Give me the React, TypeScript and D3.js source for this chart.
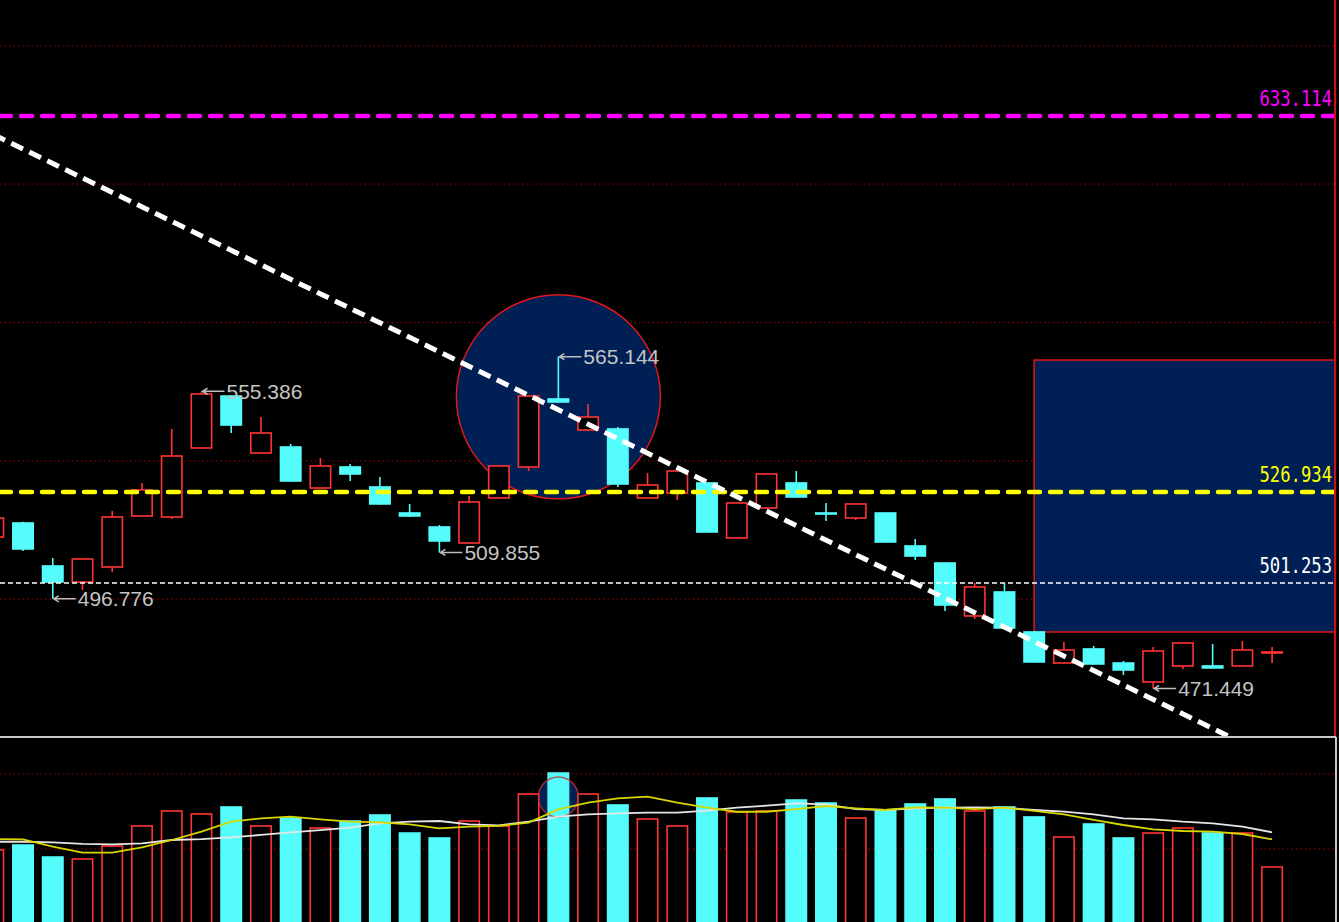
import React from "react";
import * as d3 from "d3";

// price candles, index 0 is the partly hidden one at the left edge
const opens = [
  514.23, 518.18, 506.04, 501.52, 505.75, 520.16, 519.87, 539.36, 554.04, 537.95,
  539.64, 528.06, 534.0, 528.35, 521.0, 517.05, 512.53, 525.24, 534.0, 553.2,
  544.44, 544.73, 525.24, 526.65, 529.48, 513.94, 522.42, 529.48, 521.0, 519.59,
  521.0, 511.69, 506.88, 491.92, 498.7, 487.4, 478.64, 482.6, 478.64, 473.28,
  477.8, 477.8, 477.8, 481.47,
];
const highs = [
  520.5, 518.5, 508.3, 508.1, 521.57, 529.48, 544.73, 555.386, 554.2, 548.11,
  540.49, 536.54, 534.84, 531.17, 523.55, 517.62, 525.8, 534.4, 554.2, 565.144,
  551.79, 545.29, 532.3, 532.86, 529.6, 523.9, 532.1, 532.86, 523.83, 523.6,
  521.1, 513.66, 507.0, 501.24, 501.24, 487.5, 484.57, 483.45, 479.21, 483.16,
  484.29, 484.01, 484.86, 483.16,
];
const lows = [
  513.5, 510.27, 496.776, 499.26, 504.34, 520.0, 519.31, 539.2, 543.6, 537.8,
  529.9, 527.9, 530.04, 523.4, 519.87, 509.855, 512.4, 525.1, 532.86, 552.2,
  544.3, 528.35, 525.1, 524.67, 515.5, 513.8, 522.3, 525.4, 518.74, 519.03,
  512.7, 507.73, 493.33, 491.07, 488.4, 478.8, 478.5, 478.2, 475.25, 471.449,
  476.95, 477.2, 477.7, 478.64,
];
const closes = [
  519.59, 510.84, 501.52, 508.01, 519.87, 527.5, 537.1, 554.61, 545.85, 543.6,
  530.04, 534.28, 532.02, 523.55, 520.16, 513.1, 524.11, 534.28, 554.04, 552.35,
  548.11, 529.19, 528.91, 532.86, 515.64, 523.83, 532.02, 525.52, 520.72, 523.55,
  512.81, 508.86, 495.02, 500.11, 488.53, 478.93, 482.32, 478.36, 476.67, 482.03,
  484.29, 477.24, 482.32, 481.75,
];

// volume panel
const volumes = [
  0.987, 1.053, 0.893, 0.867, 1.04, 1.307, 1.507, 1.467, 1.56, 1.307,
  1.413, 1.28, 1.373, 1.453, 1.213, 1.147, 1.373, 1.307, 1.733, 2.013,
  1.733, 1.587, 1.4, 1.307, 1.68, 1.493, 1.507, 1.653, 1.613, 1.413,
  1.52, 1.6, 1.667, 1.507, 1.56, 1.427, 1.16, 1.333, 1.147, 1.213,
  1.28, 1.213, 1.213, 0.76,
];
const volMaYellow = [
  1.133, 1.129, 1.031, 0.951, 0.951, 1.023, 1.12, 1.231, 1.364, 1.409,
  1.431, 1.396, 1.364, 1.356, 1.329, 1.276, 1.297, 1.307, 1.351, 1.529,
  1.617, 1.676, 1.697, 1.617, 1.551, 1.497, 1.497, 1.533, 1.573, 1.543,
  1.52, 1.556, 1.551, 1.533, 1.551, 1.507, 1.463, 1.387, 1.32, 1.263,
  1.24, 1.231, 1.2, 1.129,
];
const volMaWhite = [
  1.097, 1.097, 1.089, 1.067, 1.063, 1.076, 1.12, 1.133, 1.156, 1.187,
  1.223, 1.253, 1.284, 1.343, 1.364, 1.373, 1.329, 1.316, 1.364, 1.431,
  1.463, 1.476, 1.484, 1.484, 1.511, 1.551, 1.577, 1.609, 1.596, 1.533,
  1.52, 1.543, 1.551, 1.556, 1.551, 1.52, 1.497, 1.463, 1.409, 1.396,
  1.364, 1.343, 1.297, 1.223,
];

const priceGrid = [652.9, 613.9, 574.8, 535.7, 496.7];
const volumeGrid = [2, 1];

const levels = [
  { value: 633.114, color: "#ff00ff", kind: "thick" },
  { value: 526.934, color: "#ffff00", kind: "thick" },
  { value: 501.253, color: "#ffffff", kind: "thin" },
];

const extremes = [
  { i: 2, value: 496.776 },
  { i: 7, value: 555.386 },
  { i: 15, value: 509.855 },
  { i: 19, value: 565.144 },
  { i: 39, value: 471.449 },
];

const trendLine = [
  { i: 0, p: 627.9 },
  { i: 41.6, p: 457.7 },
];

const zoneBox = { from: 35, top: 564.2, bottom: 487.4 };
const focusCircle = { i: 19, p: 553.8, v: 1.693 };

const RED = "#ff3434";
const CYAN = "#54fcfc";
const NAVY = "#001f55";

const App = () => {
  const width = 1339;
  const height = 922;
  const mainBottom = 737;
  const rightEdge = 1335;
  const bodyW = 22;

  const x = d3.scaleLinear().domain([0, 43]).range([-6.7, 1272.1]);
  const y = d3.scaleLinear().domain([457.74, 665.88]).range([mainBottom, 0]);
  const yv = d3.scaleLinear().domain([0, 2]).range([924, 774]);

  const idx = d3.range(opens.length);
  const fmt = d3.format(".3f");

  const trendPath = d3
    .line<{ i: number; p: number }>()
    .x((d) => x(d.i))
    .y((d) => y(d.p))(trendLine) as string;

  const maLine = d3
    .line<number>()
    .x((_, i) => x(i))
    .y((d) => yv(d));

  return (
    <svg
      width={width}
      height={height}
      style={{ position: "absolute", left: 0, top: 0, background: "#000" }}
    >
      <defs>
        <clipPath id="mainClip">
          <rect x={0} y={0} width={rightEdge} height={mainBottom} />
        </clipPath>
        <clipPath id="volClip">
          <rect x={0} y={mainBottom + 1} width={rightEdge} height={height - mainBottom} />
        </clipPath>
      </defs>
      <rect x={0} y={0} width={width} height={height} fill="#000" />

      {/* price panel */}
      <g clipPath="url(#mainClip)">
        {priceGrid.map((g) => (
          <line
            key={g}
            x1={0}
            x2={rightEdge}
            y1={y(g)}
            y2={y(g)}
            stroke="#a00000"
            strokeWidth={1}
            strokeDasharray="1.5 3"
          />
        ))}

        <rect
          x={x(zoneBox.from)}
          y={y(zoneBox.top)}
          width={rightEdge - x(zoneBox.from)}
          height={y(zoneBox.bottom) - y(zoneBox.top)}
          fill={NAVY}
          stroke="#e01818"
          strokeWidth={1.5}
        />
        <circle
          cx={x(focusCircle.i)}
          cy={y(focusCircle.p)}
          r={102}
          fill={NAVY}
          stroke="#e01818"
          strokeWidth={1.5}
        />

        {idx.map((i) => {
          const o = opens[i];
          const c = closes[i];
          const up = c >= o;
          const cx = x(i);
          const top = y(Math.max(o, c));
          const bot = y(Math.min(o, c));
          const color = up ? RED : CYAN;
          const bh = Math.max(bot - top, 1);
          return (
            <g key={i}>
              {up ? (
                <>
                  <line x1={cx} x2={cx} y1={y(highs[i])} y2={top} stroke={color} strokeWidth={1.6} />
                  <line x1={cx} x2={cx} y1={bot} y2={y(lows[i])} stroke={color} strokeWidth={1.6} />
                </>
              ) : (
                <line x1={cx} x2={cx} y1={y(highs[i])} y2={y(lows[i])} stroke={color} strokeWidth={1.6} />
              )}
              <rect
                x={cx - bodyW / 2 + 0.8}
                y={top}
                width={bodyW - 1.6}
                height={bh}
                fill={up ? "#000" : CYAN}
                stroke={color}
                strokeWidth={1.6}
              />
            </g>
          );
        })}

        {levels.map((l) => (
          <line
            key={l.value}
            x1={0}
            x2={rightEdge}
            y1={y(l.value)}
            y2={y(l.value)}
            stroke={l.color}
            strokeWidth={l.kind === "thick" ? 4.5 : 1.5}
            strokeDasharray={l.kind === "thick" ? "11 10" : "5 3"}
            strokeLinecap={l.kind === "thick" ? "round" : "butt"}
          />
        ))}

        <path
          d={trendPath}
          fill="none"
          stroke="#fff"
          strokeWidth={5}
          strokeDasharray="13 7"
        />

        {extremes.map((e) => {
          const ex = x(e.i) + 1;
          const ey = y(e.value);
          return (
            <g key={e.value}>
              <path
                d={`M${ex},${ey}H${ex + 22}M${ex + 5},${ey - 3}L${ex},${ey}L${ex + 5},${ey + 3}`}
                fill="none"
                stroke="#bdbdbd"
                strokeWidth={1.5}
              />
              <text
                x={ex + 24}
                y={ey + 7.5}
                fill="#c4c4c4"
                fontFamily="'Liberation Sans', Arial, sans-serif"
                fontSize={21}
              >
                {fmt(e.value)}
              </text>
            </g>
          );
        })}
      </g>
      <line x1={rightEdge} x2={rightEdge} y1={0} y2={mainBottom} stroke="#d01010" strokeWidth={2} />

      {levels.map((l) => (
        <g key={"t" + l.value} transform={`translate(1332,${y(l.value) - 10}) scale(0.82,1)`}>
          <text
            x={0}
            y={0}
            textAnchor="end"
            fill={l.color}
            fontFamily="'DejaVu Sans Mono', monospace"
            fontSize={21}
          >
            {fmt(l.value)}
          </text>
        </g>
      ))}

      {/* volume panel */}
      <g clipPath="url(#volClip)">
        {volumeGrid.map((g) => (
          <line
            key={g}
            x1={0}
            x2={rightEdge}
            y1={yv(g)}
            y2={yv(g)}
            stroke="#a00000"
            strokeWidth={1}
            strokeDasharray="1.5 3"
          />
        ))}
        <circle cx={x(focusCircle.i)} cy={yv(focusCircle.v)} r={20} fill={NAVY} />
        {idx.map((i) => {
          const up = closes[i] >= opens[i];
          const cx = x(i);
          return (
            <rect
              key={i}
              x={cx - bodyW / 2 + 0.8}
              y={yv(volumes[i])}
              width={bodyW - 1.6}
              height={height + 10 - yv(volumes[i])}
              fill={up ? "#000" : CYAN}
              stroke={up ? RED : CYAN}
              strokeWidth={1.6}
            />
          );
        })}
        <circle
          cx={x(focusCircle.i)}
          cy={yv(focusCircle.v)}
          r={20}
          fill="none"
          stroke="#c03030"
          strokeOpacity={0.8}
          strokeWidth={1.5}
        />
        <path d={maLine(volMaWhite) as string} fill="none" stroke="#e6e6e6" strokeWidth={1.8} />
        <path d={maLine(volMaYellow) as string} fill="none" stroke="#d6d600" strokeWidth={1.8} />
      </g>
      <line x1={0} x2={rightEdge + 1} y1={mainBottom} y2={mainBottom} stroke="#c8c8c8" strokeWidth={2} />
      <line x1={rightEdge + 1} x2={rightEdge + 1} y1={mainBottom} y2={height} stroke="#c8c8c8" strokeWidth={2} />
    </svg>
  );
};

export default App;
